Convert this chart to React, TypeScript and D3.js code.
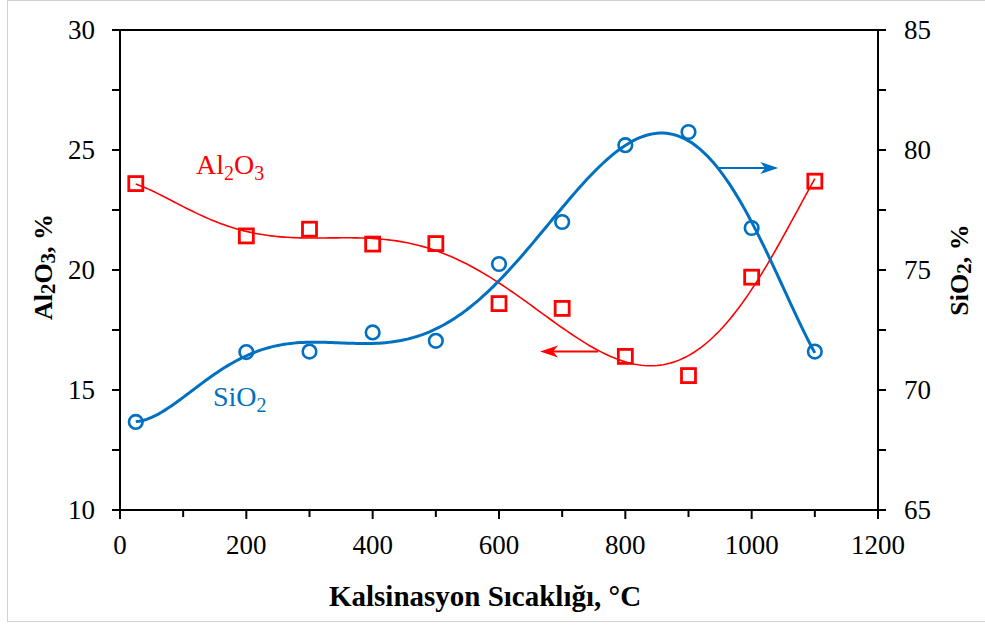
import React, { useEffect, useRef } from 'react';
import * as d3 from 'd3';

// calcination temperature, °C
const temps = [25, 200, 300, 400, 500, 600, 700, 800, 900, 1000, 1100];
// Al2O3 content, % (left axis)
const al2o3 = [23.6, 21.42, 21.7, 21.08, 21.1, 18.6, 18.4, 16.4, 15.6, 19.7, 23.7];
// SiO2 content, % (right axis)
const sio2 = [68.67, 71.58, 71.6, 72.4, 72.05, 75.25, 77.0, 80.2, 80.75, 76.75, 71.6];

const xTicks = [0, 200, 400, 600, 800, 1000, 1200];
const leftTicks = [10, 15, 20, 25, 30];
const rightTicks = [65, 70, 75, 80, 85];

const RED = '#FF0000';
const BLUE = '#0070C0';
const FONT = "'Liberation Serif', 'Times New Roman', Times, 'DejaVu Serif', serif";

// least squares polynomial trendline (like Excel's)
function polyFit(xs: number[], ys: number[], deg: number) {
  const t = xs.map(x => (x - 600) / 600);
  const n = deg + 1;
  const A = Array.from({ length: n }, () => new Array(n + 1).fill(0));
  t.forEach((ti, k) => {
    for (let i = 0; i < n; i++) {
      for (let j = 0; j < n; j++) A[i][j] += Math.pow(ti, i + j);
      A[i][n] += ys[k] * Math.pow(ti, i);
    }
  });
  for (let c = 0; c < n; c++) {
    let p = c;
    for (let r = c + 1; r < n; r++) if (Math.abs(A[r][c]) > Math.abs(A[p][c])) p = r;
    [A[c], A[p]] = [A[p], A[c]];
    for (let r = 0; r < n; r++) {
      if (r === c) continue;
      const f = A[r][c] / A[c][c];
      for (let k = c; k <= n; k++) A[r][k] -= f * A[c][k];
    }
  }
  const coef = A.map((row, i) => row[n] / row[i]);
  return (x: number) => {
    const tt = (x - 600) / 600;
    return coef.reduce((s, c, i) => s + c * Math.pow(tt, i), 0);
  };
}

const App: React.FC = () => {
  const svgRef = useRef<SVGSVGElement>(null);

  useEffect(() => {
    if (!svgRef.current) return;
    const svg = d3.select(svgRef.current);
    svg.selectAll('*').remove();

    const left = 120, right = 878, top = 30, bottom = 510;
    const x = d3.scaleLinear().domain([0, 1200]).range([left, right]);
    const yL = d3.scaleLinear().domain([10, 30]).range([bottom, top]);
    const yR = d3.scaleLinear().domain([65, 85]).range([bottom, top]);

    // outer chart frame
    svg.append('rect')
      .attr('x', 7.5).attr('y', 0.5).attr('width', 990).attr('height', 621)
      .attr('fill', '#fff').attr('stroke', '#d0d0d0').attr('stroke-width', 1);

    // plot box
    svg.append('rect')
      .attr('x', left).attr('y', top).attr('width', right - left).attr('height', bottom - top)
      .attr('fill', 'none').attr('stroke', '#000').attr('stroke-width', 2);

    const tickG = svg.append('g').attr('stroke', '#000').attr('stroke-width', 2);
    d3.range(0, 1201, 100).forEach(v => {
      const len = v % 200 === 0 ? 9 : 7;
      tickG.append('line').attr('x1', x(v)).attr('x2', x(v)).attr('y1', bottom).attr('y2', bottom + len);
    });
    d3.range(10, 30.1, 2.5).forEach(v => {
      tickG.append('line').attr('x1', left).attr('x2', left - 8).attr('y1', yL(v)).attr('y2', yL(v));
    });
    d3.range(65, 85.1, 2.5).forEach(v => {
      tickG.append('line').attr('x1', right).attr('x2', right + 8).attr('y1', yR(v)).attr('y2', yR(v));
    });

    const labels = svg.append('g').style('font-family', FONT).attr('font-size', 27).attr('fill', '#000');
    xTicks.forEach(v => {
      labels.append('text').attr('x', x(v)).attr('y', 554).attr('text-anchor', 'middle').text(v);
    });
    leftTicks.forEach(v => {
      labels.append('text').attr('x', 95).attr('y', yL(v) + 9).attr('text-anchor', 'end').text(v);
    });
    rightTicks.forEach(v => {
      labels.append('text').attr('x', 904).attr('y', yR(v) + 9).attr('text-anchor', 'start').text(v);
    });

    // axis titles
    svg.append('text')
      .attr('x', 485).attr('y', 606).attr('text-anchor', 'middle')
      .style('font-family', FONT).attr('font-size', 29).attr('font-weight', 'bold')
      .text('Kalsinasyon Sıcaklığı, °C');

    const subTitle = (tx: number, ty: number, parts: [string, boolean][]) => {
      const t = svg.append('text')
        .attr('transform', `translate(${tx},${ty}) rotate(-90)`)
        .attr('text-anchor', 'middle')
        .style('font-family', FONT).attr('font-size', 26).attr('font-weight', 'bold');
      parts.forEach(([s, sub], i) => {
        const prevSub = i > 0 && parts[i - 1][1];
        t.append('tspan')
          .attr('dy', sub ? 3 : prevSub ? -3 : 0)
          .attr('font-size', sub ? 21 : 26)
          .text(s);
      });
    };
    subTitle(52, 267, [['Al', false], ['2', true], ['O', false], ['3', true], [', %', false]]);
    subTitle(968, 270, [['SiO', false], ['2', true], [', %', false]]);

    // trendlines
    const sample = d3.range(25, 1100.01, 5);
    const fitAl = polyFit(temps, al2o3, 6);
    const fitSi = polyFit(temps, sio2, 6);

    svg.append('path')
      .attr('d', d3.line<number>().x(d => x(d)).y(d => yL(fitAl(d)))(sample) || '')
      .attr('fill', 'none').attr('stroke', RED).attr('stroke-width', 1.6);
    svg.append('path')
      .attr('d', d3.line<number>().x(d => x(d)).y(d => yR(fitSi(d)))(sample) || '')
      .attr('fill', 'none').attr('stroke', BLUE).attr('stroke-width', 3);

    // markers
    temps.forEach((t, i) => {
      svg.append('rect')
        .attr('x', x(t) - 7).attr('y', yL(al2o3[i]) - 7).attr('width', 14).attr('height', 14)
        .attr('fill', 'none').attr('stroke', RED).attr('stroke-width', 2.8);
    });
    temps.forEach((t, i) => {
      svg.append('circle')
        .attr('cx', x(t)).attr('cy', yR(sio2[i])).attr('r', 6.8)
        .attr('fill', 'none').attr('stroke', BLUE).attr('stroke-width', 2.6);
    });

    // axis pointer arrows
    const arrow = (x1: number, x2: number, y: number, color: string, w: number) => {
      const dir = Math.sign(x2 - x1);
      svg.append('line')
        .attr('x1', x1).attr('x2', x2 - dir * 10).attr('y1', y).attr('y2', y)
        .attr('stroke', color).attr('stroke-width', w);
      svg.append('path')
        .attr('d', `M${x2},${y} L${x2 - dir * 18},${y - 6} L${x2 - dir * 13},${y} L${x2 - dir * 18},${y + 6} Z`)
        .attr('fill', color);
    };
    arrow(x(947), x(1042), yR(79.25), BLUE, 2);
    arrow(x(757), x(665), yL(16.6), RED, 2);

    // series labels
    const seriesLabel = (tx: number, ty: number, color: string, parts: [string, boolean][]) => {
      const t = svg.append('text').attr('x', tx).attr('y', ty)
        .style('font-family', FONT).attr('font-size', 28).attr('fill', color);
      parts.forEach(([s, sub], i) => {
        const prevSub = i > 0 && parts[i - 1][1];
        t.append('tspan')
          .attr('dy', sub ? 6 : prevSub ? -6 : 0)
          .attr('font-size', sub ? 20 : 28)
          .text(s);
      });
    };
    seriesLabel(196, 174, RED, [['Al', false], ['2', true], ['O', false], ['3', true]]);
    seriesLabel(213, 406, BLUE, [['SiO', false], ['2', true]]);
  }, []);

  return (
    <svg
      ref={svgRef}
      width={985}
      height={626}
      style={{ position: 'absolute', left: 0, top: 0, display: 'block', background: '#fff' }}
    />
  );
};

export default App;
